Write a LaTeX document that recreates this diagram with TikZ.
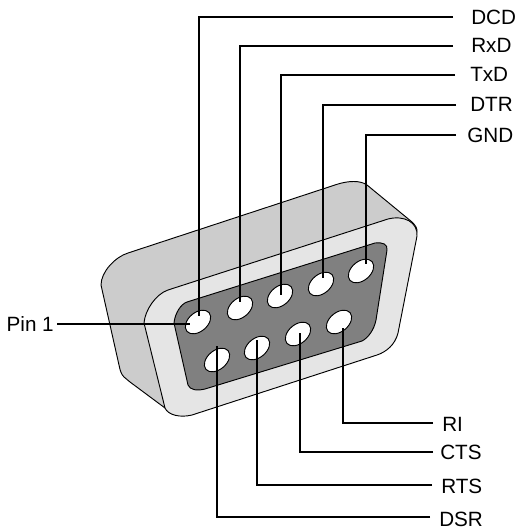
\documentclass[tikz,border=0pt]{standalone}
\usepackage{fontspec}
\setmainfont{Liberation Sans}
\usetikzlibrary{shapes.geometric}
\definecolor{shellback}{gray}{0.8}
\definecolor{bezel}{gray}{0.9}
\definecolor{well}{gray}{0.5}
\tikzset{
  x=0.75pt,y=-0.75pt,
  body/.style={draw=black,line width=0.7pt},
  hole/.style={draw=black,line width=0.7pt,fill=white,ellipse,rotate=40,minimum width=21.75pt,minimum height=14.25pt,inner sep=0pt},
  lead/.style={draw=black,line width=1pt},
  lbl/.style={font=\fontsize{15.5}{15.5}\selectfont,inner sep=0pt,anchor=west},
}
\begin{document}
\begin{tikzpicture}
\useasboundingbox (0,0) rectangle (519,530);
% back shell
\path[body,fill=shellback] (101,285) .. controls (101,272) and (115,257) .. (128,253)
  -- (338,184) .. controls (348,181) and (360,180) .. (367,185)
  -- (412,222) .. controls (416,226) and (417,228) .. (417,232)
  -- (165,408) -- (130,382) -- (124,377) .. controls (121,374) and (120,370) .. (119,365) -- cycle;
% bezel
\path[body,fill=bezel] (144,323) .. controls (145,310) and (156,294) .. (168,290)
  -- (388,219) .. controls (404,215) and (418,222) .. (417,236)
  -- (398,333) .. controls (395,345) and (386,352) .. (377,355)
  -- (192,415) .. controls (180,418) and (168,415) .. (165,408) -- cycle;
% well
\path[body,fill=well] (174,323) .. controls (175,313) and (181,304) .. (187,302)
  -- (375,243) .. controls (382,242) and (388,244) .. (387,250)
  -- (376,320) .. controls (374,330) and (368,338) .. (362,341)
  -- (205,389) .. controls (197,391) and (190,390) .. (188,385) -- cycle;
% holes
\node[hole] (p1) at (198,322) {};
\node[hole] (p2) at (240,308) {};
\node[hole] (p3) at (280,296) {};
\node[hole] (p4) at (321,284) {};
\node[hole] (p5) at (361,271) {};
\node[hole] (p6) at (217,360) {};
\node[hole] (p7) at (257,348) {};
\node[hole] (p8) at (298,334) {};
\node[hole] (p9) at (339,322) {};
% labels
\node[lbl] (dcd) at (471,17) {DCD};
\node[lbl] (rxd) at (471,45) {RxD};
\node[lbl] (txd) at (470,74) {TxD};
\node[lbl] (dtr) at (470,104) {DTR};
\node[lbl] (gnd) at (467,135) {GND};
\node[lbl] (ri) at (442,424) {RI};
\node[lbl] (cts) at (440,452) {CTS};
\node[lbl] (rts) at (441,486) {RTS};
\node[lbl] (dsr) at (439,519) {DSR};
\node[lbl,anchor=east] (pin) at (54,324) {Pin 1};
% free ends of the leads beside the labels
\coordinate (tdcd) at (453,17);
\coordinate (trxd) at (453,46);
\coordinate (ttxd) at (455,75);
\coordinate (tdtr) at (456,105);
\coordinate (tgnd) at (456,135);
\coordinate (tri) at (433,423);
\coordinate (tcts) at (433,452);
\coordinate (trts) at (432,485);
\coordinate (tdsr) at (430,517);
\coordinate (tpin) at (57,324);
% free ends inside the holes
\coordinate (e1) at (199,316);
\coordinate (e2) at (240,302);
\coordinate (e3) at (281,295);
\coordinate (e4) at (323,278);
\coordinate (e5) at (366,264);
\coordinate (e1b) at (190,324);
\coordinate (e6) at (217,346);
\coordinate (e7) at (257,340);
\coordinate (e8) at (300,333);
\coordinate (e9) at (343,328);
% leads
\draw[lead] (tdcd) -| (e1);
\draw[lead] (trxd) -| (e2);
\draw[lead] (ttxd) -| (e3);
\draw[lead] (tdtr) -| (e4);
\draw[lead] (tgnd) -| (e5);
\draw[lead] (tpin) -- (e1b);
\draw[lead] (tri) -| (e9);
\draw[lead] (tcts) -| (e8);
\draw[lead] (trts) -| (e7);
\draw[lead] (tdsr) -| (e6);
\end{tikzpicture}
\end{document}
